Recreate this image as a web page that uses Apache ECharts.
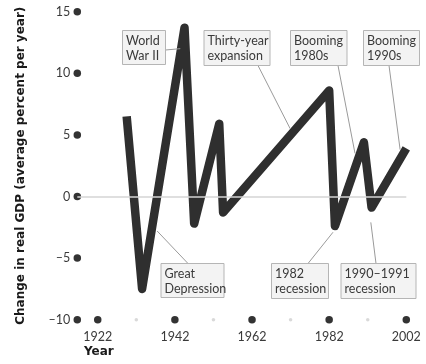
<!DOCTYPE html>
<html><head><meta charset="utf-8">
<script src="https://cdn.jsdelivr.net/npm/echarts@6/dist/echarts.min.js"></script>
<style>html,body{margin:0;padding:0;background:#fff;}#c{width:426px;height:364px;}</style>
</head><body><div id="c"></div>
<script>
const years = [1929.5, 1933.5, 1944.5, 1947, 1953.5, 1954.5, 1982, 1983.5, 1991, 1993, 2002];
const growth = [6.5, -7.5, 13.7, -2.2, 5.9, -1.3, 8.6, -2.4, 4.4, -0.9, 3.9];
const yTicks = [-10, -5, 0, 5, 10, 15];
const xMajorTicks = [1922, 1942, 1962, 1982, 2002];
const xMinorTicks = [1932, 1952, 1972, 1992];
const annoTexts = ['World\nWar II', 'Thirty-year\nexpansion', 'Booming\n1980s', 'Booming\n1990s', 'Great\nDepression', '1982\nrecession', '1990–1991\nrecession'];
const annoAnchors = [[1943.4, 12.0], [1971.9, 5.5], [1988.7, 3.5], [2000.4, 3.8], [1937.4, -2.8], [1983, -2.9], [1992.8, -2.1]];

const X_MIN = 1916.7, X_MAX = 2002, Y_MIN = -10, Y_MAX = 15;
// layout of annotation boxes: [left, top, width, height, leaderStartX, leaderStartY]
const boxLayout = [
  [122.5, 30.5, 43, 34, 165.5, 50],
  [204, 30.5, 66, 35, 258, 65.5],
  [290.5, 30.5, 56.5, 35, 338, 65.5],
  [363.5, 30.5, 56, 35, 389, 65.5],
  [161, 263.5, 63, 34, 188, 263.5],
  [271.5, 263.5, 57, 35, 308, 263.5],
  [341, 263.5, 75, 35, 376, 263.5]
];

const chart = echarts.init(document.getElementById('c'));
const FONT = 'Lato';
const option = {
  animation: false,
  grid: {left: 77.3, right: 19.7, top: 11.7, bottom: 44.3, containLabel: false},
  xAxis: {
    type: 'value', min: X_MIN, max: X_MAX,
    axisLine: {show: false}, axisTick: {show: false}, splitLine: {show: false},
    axisLabel: {customValues: xMajorTicks, margin: 11, color: '#3a3a3a', fontSize: 12.5, fontFamily: FONT,
      formatter: v => String(v)}
  },
  yAxis: {
    type: 'value', min: Y_MIN, max: Y_MAX, interval: 5,
    axisLine: {show: false}, axisTick: {show: false}, splitLine: {show: false},
    axisLabel: {margin: 7, color: '#3a3a3a', fontSize: 12.5, fontFamily: FONT,
      formatter: v => String(v).replace('-', '–')},
    name: 'Change in real GDP (average percent per year)',
    nameLocation: 'middle', nameGap: 50, nameRotate: 90,
    nameTextStyle: {fontWeight: 'bold', fontSize: 12, color: '#1a1a1a', fontFamily: 'DejaVu Sans'}
  },
  series: [
    {type: 'line', data: [], z: 1, silent: true,
      markLine: {silent: true, symbol: 'none', label: {show: false},
        lineStyle: {color: '#d4d4d4', width: 1.5, type: 'solid'}, data: [{yAxis: 0}]}},
    {type: 'line', data: years.map((y, i) => [y, growth[i]]), symbol: 'none', z: 3,
      lineStyle: {color: '#2f2f2f', width: 8.5, join: 'round', cap: 'butt'}},
    {type: 'scatter', data: yTicks.map(v => [X_MIN, v]), symbolSize: 7.5, clip: false, z: 4,
      itemStyle: {color: '#000'}},
    {type: 'scatter', data: xMajorTicks.map(v => [v, Y_MIN]), symbolSize: 7.5, clip: false, z: 4,
      itemStyle: {color: '#000'}},
    {type: 'scatter', data: xMinorTicks.map(v => [v, Y_MIN]), symbolSize: 3.5, clip: false, z: 4,
      itemStyle: {color: '#cfcfcf'}}
  ],
  graphic: [
    {type: 'text', left: 84, top: 346, style: {text: 'Year', font: 'bold 12px "DejaVu Sans"', fill: '#1a1a1a'}}
  ]
};
chart.setOption(option);

const g = [];
annoTexts.forEach((t, i) => {
  const b = boxLayout[i];
  const p = chart.convertToPixel({gridIndex: 0}, annoAnchors[i]);
  g.push({type: 'line', shape: {x1: b[4], y1: b[5], x2: p[0], y2: p[1]}, style: {stroke: '#9a9a9a', lineWidth: 1}, z: 5});
  g.push({type: 'rect', shape: {x: b[0], y: b[1], width: b[2], height: b[3]}, style: {fill: '#f3f3f3', stroke: '#b5b5b5', lineWidth: 1}, z: 6});
  g.push({type: 'text', x: b[0] + 3.5, y: b[1] + 2.5, style: {text: t, font: '12.5px ' + FONT, fill: '#3a3a3a', lineHeight: 15}, z: 7});
});
chart.setOption({graphic: option.graphic.concat(g)});
</script></body></html>
